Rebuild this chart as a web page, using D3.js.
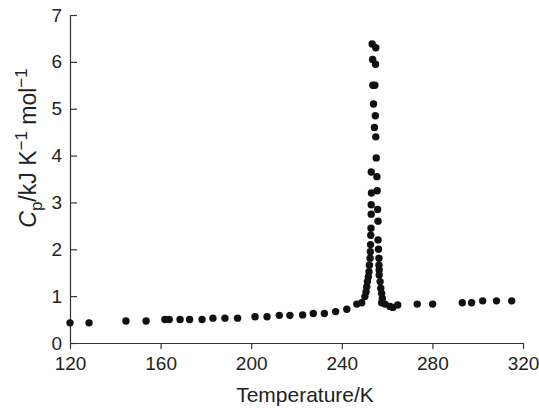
<!DOCTYPE html>
<html>
<head>
<meta charset="utf-8">
<script src="https://cdn.jsdelivr.net/npm/d3@7"></script>
<style>
  body { margin: 0; background: #fff; }
  svg text { font-family: "Liberation Sans", Arial, sans-serif; fill: #222; }
</style>
</head>
<body>
<div id="chart"></div>
<script>
// temperature (K) and heat capacity (kJ K-1 mol-1)
var temps = [120, 128.4, 144.7, 153.6, 161.9, 163.8, 168.6, 172.8, 178.3, 183.1, 188.4, 194.0,
    201.7, 207.0, 212.4, 217.1, 222.7, 227.4, 232.3, 237.3, 242.2, 246.6, 248.8,
    250.2, 250.7, 251.0, 251.3, 251.7, 252.0, 252.2, 252.5,
    252.6, 252.7, 252.8, 252.9, 253.0, 253.0, 253.1, 253.0, 253.4, 253.6, 253.7, 254.0,
    255.0, 254.9, 254.6, 254.8, 254.4, 255.0, 255.2, 255.5, 255.6, 255.8, 256.0, 256.0, 256.2,
    256.4, 256.4, 256.5, 256.5, 256.9, 257.2, 257.6, 257.9, 257.6, 259.1, 261.3, 262.5, 264.7,
    273.3, 280.1, 293.2, 297.3, 302.2, 308.3, 315.0];
var cps = [0.43, 0.43, 0.47, 0.47, 0.50, 0.50, 0.50, 0.50, 0.50, 0.53, 0.53, 0.53,
    0.56, 0.56, 0.59, 0.59, 0.60, 0.63, 0.63, 0.67, 0.72, 0.83, 0.86,
    0.99, 1.09, 1.20, 1.31, 1.41, 1.52, 1.66, 1.81,
    1.95, 2.1, 2.3, 2.45, 2.75, 2.95, 3.2, 3.65, 6.38, 6.05, 5.5, 5.1,
    6.3, 5.95, 5.5, 4.85, 4.6, 4.4, 3.95, 3.55, 3.25, 2.85, 2.6, 2.2, 2.0,
    1.81, 1.66, 1.56, 1.45, 1.31, 1.17, 1.06, 0.95, 0.86, 0.83, 0.78, 0.76, 0.81,
    0.83, 0.83, 0.86, 0.86, 0.90, 0.90, 0.90];
var xTicks = [120, 160, 200, 240, 280, 320];
var yTicks = [0, 1, 2, 3, 4, 5, 6, 7];

var width = 539, height = 408;
var margin = {top: 15, right: 16, bottom: 65, left: 70};

var svg = d3.select("#chart").append("svg")
    .attr("width", width)
    .attr("height", height);

var x = d3.scaleLinear().domain([120, 320]).range([margin.left, width - margin.right]);
var y = d3.scaleLinear().domain([0, 7]).range([height - margin.bottom, margin.top]);

// x axis, ticks pointing down
var gx = svg.append("g")
    .attr("transform", "translate(0," + y(0) + ")")
    .call(d3.axisBottom(x).tickValues(xTicks).tickFormat(d3.format("d"))
        .tickSize(6).tickSizeOuter(0).tickPadding(8));
gx.selectAll("text").style("font-size", "19px");

// y axis, ticks pointing into the plot
var gy = svg.append("g")
    .attr("transform", "translate(" + x(120) + ",0)")
    .call(d3.axisLeft(y).tickValues(yTicks).tickFormat(d3.format("d"))
        .tickSize(-7).tickSizeOuter(0).tickPadding(8));
gy.selectAll("text").style("font-size", "19px");

svg.selectAll(".domain, .tick line").attr("stroke", "#333").attr("stroke-width", 1.2);

// points
var pts = d3.range(temps.length).map(function(i) { return {t: temps[i], c: cps[i]}; });
svg.append("g").selectAll("circle")
    .data(pts)
    .enter().append("circle")
    .attr("cx", function(d) { return x(d.t); })
    .attr("cy", function(d) { return y(d.c); })
    .attr("r", 3.7)
    .attr("fill", "#111");

// axis titles
svg.append("text")
    .attr("x", 305)
    .attr("y", 402)
    .attr("text-anchor", "middle")
    .style("font-size", "21px")
    .text("Temperature/K");

var yl = svg.append("text")
    .attr("transform", "translate(36,148) rotate(-90)")
    .attr("text-anchor", "middle")
    .style("font-size", "23px");
yl.append("tspan").style("font-style", "italic").text("C");
yl.append("tspan").attr("dy", 6).style("font-size", "17px").text("p");
yl.append("tspan").attr("dy", -6).text("/kJ K");
yl.append("tspan").attr("dy", -9).style("font-size", "17px").text("\u22121");
yl.append("tspan").attr("dy", 9).text(" mol");
yl.append("tspan").attr("dy", -9).style("font-size", "17px").text("\u22121");
</script>
</body>
</html>
